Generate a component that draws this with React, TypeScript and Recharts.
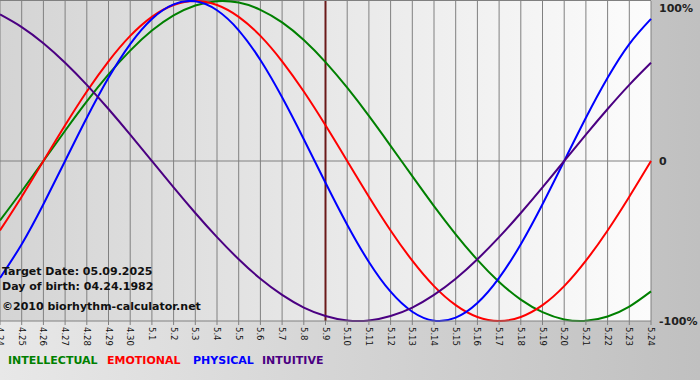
import {
  LineChart,
  Line,
  XAxis,
  YAxis,
  CartesianGrid,
  ReferenceLine,
} from "recharts";

const dayLabels = [
  "4.24", "4.25", "4.26", "4.27", "4.28", "4.29", "4.30",
  "5.1", "5.2", "5.3", "5.4", "5.5", "5.6", "5.7", "5.8", "5.9", "5.10",
  "5.11", "5.12", "5.13", "5.14", "5.15", "5.16", "5.17", "5.18", "5.19",
  "5.20", "5.21", "5.22", "5.23", "5.24",
];

const intellectual = [
  -37.2, -18.9, 0, 18.9, 37.2, 54.1, 69.0, 81.5, 91.0, 97.2, 99.9, 99.0,
  94.5, 86.6, 75.6, 61.8, 45.8, 28.2, 9.5, -9.5, -28.2, -45.8, -61.8, -75.6,
  -86.6, -94.5, -99.0, -99.9, -97.2, -91.0, -81.5,
];

const emotional = [
  -43.4, -22.3, 0, 22.3, 43.4, 62.3, 78.2, 90.1, 97.5, 100, 97.5, 90.1,
  78.2, 62.3, 43.4, 22.3, 0, -22.3, -43.4, -62.3, -78.2, -90.1, -97.5, -100,
  -97.5, -90.1, -78.2, -62.3, -43.4, -22.3, 0,
];

const physical = [
  -73.1, -52.0, -27.0, 0, 27.0, 52.0, 73.1, 88.8, 97.9, 99.8, 94.2, 81.7,
  63.1, 39.8, 13.6, -13.6, -39.8, -63.1, -81.7, -94.2, -99.8, -97.9, -88.8,
  -73.1, -52.0, -27.0, 0, 27.0, 52.0, 73.1, 88.8,
];

const intuitive = [
  91.6, 83.7, 73.6, 61.4, 47.6, 32.5, 16.5, 0, -16.5, -32.5, -47.6, -61.4,
  -73.6, -83.7, -91.6, -96.9, -99.7, -99.7, -96.9, -91.6, -83.7, -73.6,
  -61.4, -47.6, -32.5, -16.5, 0, 16.5, 32.5, 47.6, 61.4,
];

const yTicks = [-100, 0, 100];
const targetIndex = 15;

const legendItems = [
  { name: "INTELLECTUAL", color: "#008000", left: 8 },
  { name: "EMOTIONAL", color: "#ff0000", left: 107 },
  { name: "PHYSICAL", color: "#0000ff", left: 193 },
  { name: "INTUITIVE", color: "#4b0082", left: 262 },
];

const data = dayLabels.map((label, i) => ({
  idx: i,
  label,
  intellectual: intellectual[i],
  emotional: emotional[i],
  physical: physical[i],
  intuitive: intuitive[i],
}));

const font = "Verdana, 'DejaVu Sans', sans-serif";

const DayTick = (props: any) => {
  const { x, y, payload } = props;
  return (
    <g transform={`translate(${x},${y}) rotate(90)`}>
      <text
        x={0}
        y={0}
        dy="0.35em"
        textAnchor="start"
        fontFamily={font}
        fontSize={8.5}
        fill="#111"
      >
        {dayLabels[payload.value]}
      </text>
    </g>
  );
};

const PercentTick = (props: any) => {
  const { x, y, payload } = props;
  const v = payload.value;
  const txt = v === 0 ? "0" : `${v}%`;
  return (
    <text
      x={x}
      y={v === 100 ? y - 1 : y}
      dy="0.35em"
      textAnchor="start"
      fontFamily={font}
      fontSize={11}
      fontWeight="bold"
      fill="#222"
    >
      {txt}
    </text>
  );
};

const infoStyle: any = {
  position: "absolute",
  left: 2,
  fontFamily: font,
  fontSize: 11,
  fontWeight: "bold",
  color: "#111",
  lineHeight: "14px",
  whiteSpace: "nowrap",
};

const App = () => {
  return (
    <div
      style={{
        position: "absolute",
        left: 0,
        top: 0,
        width: 700,
        height: 380,
        background: "linear-gradient(to right, #e8e8e8, #c0c0c0)",
        overflow: "hidden",
      }}
    >
      <div
        style={{
          position: "absolute",
          left: 0,
          top: 0,
          width: 651,
          height: 321,
          borderTop: "1px solid #808080",
          boxSizing: "border-box",
          background: "linear-gradient(to right, #d4d4d4, #fcfcfc)",
        }}
      />
      <div style={{ position: "absolute", left: 0, top: 0 }}>
        <LineChart
          width={700}
          height={380}
          data={data}
          margin={{ top: 1, right: 0, left: 0, bottom: 29 }}
        >
          <CartesianGrid horizontal={false} stroke="#808080" />
          <XAxis
            dataKey="idx"
            type="number"
            domain={[0, dayLabels.length - 1]}
            ticks={dayLabels.map((_, i) => i)}
            interval={0}
            height={30}
            tick={<DayTick />}
            tickSize={4}
            stroke="#808080"
          />
          <YAxis
            orientation="right"
            domain={[-100, 100]}
            ticks={yTicks}
            width={49}
            axisLine={false}
            tickLine={false}
            tick={<PercentTick />}
          />
          <ReferenceLine y={0} stroke="#808080" />
          <ReferenceLine x={targetIndex} stroke="#6b1a1a" strokeWidth={2} />
          <Line
            type="natural"
            dataKey="intellectual"
            stroke="#008000"
            strokeWidth={2}
            dot={false}
            activeDot={false}
            isAnimationActive={false}
          />
          <Line
            type="natural"
            dataKey="emotional"
            stroke="#ff0000"
            strokeWidth={2}
            dot={false}
            activeDot={false}
            isAnimationActive={false}
          />
          <Line
            type="natural"
            dataKey="physical"
            stroke="#0000ff"
            strokeWidth={2}
            dot={false}
            activeDot={false}
            isAnimationActive={false}
          />
          <Line
            type="natural"
            dataKey="intuitive"
            stroke="#4b0082"
            strokeWidth={2}
            dot={false}
            activeDot={false}
            isAnimationActive={false}
          />
        </LineChart>
      </div>
      <div style={{ ...infoStyle, top: 265 }}>Target Date: 05.09.2025</div>
      <div style={{ ...infoStyle, top: 280 }}>Day of birth: 04.24.1982</div>
      <div style={{ ...infoStyle, top: 300 }}>©2010 biorhythm-calculator.net</div>
      {legendItems.map((item) => (
        <div
          key={item.name}
          style={{
            position: "absolute",
            left: item.left,
            top: 354,
            fontFamily: font,
            fontSize: 11,
            fontWeight: "bold",
            color: item.color,
            lineHeight: "14px",
            whiteSpace: "nowrap",
          }}
        >
          {item.name}
        </div>
      ))}
    </div>
  );
};

export default App;
